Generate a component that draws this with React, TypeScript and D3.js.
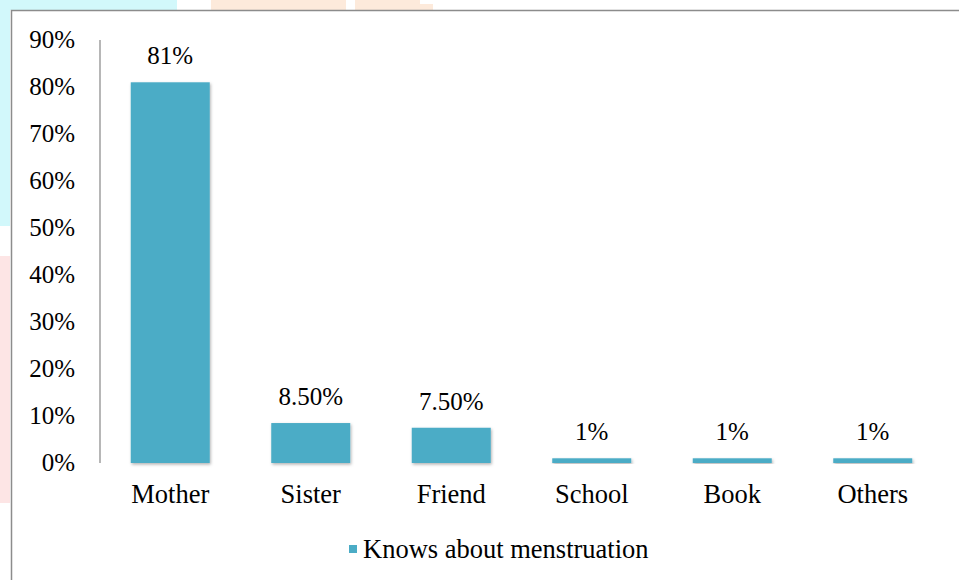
import React from "react";
import * as d3 from "d3";

const categories = ["Mother", "Sister", "Friend", "School", "Book", "Others"];
const values = [0.81, 0.085, 0.075, 0.01, 0.01, 0.01];
const valueLabels = ["81%", "8.50%", "7.50%", "1%", "1%", "1%"];
const yTicks = [0, 0.1, 0.2, 0.3, 0.4, 0.5, 0.6, 0.7, 0.8, 0.9];
const seriesName = "Knows about menstruation";

const W = 959;
const H = 580;
const BAR = "#4BACC6";
const AXIS = "#868686";
const FONT = "'Liberation Serif', 'Times New Roman', serif";
const FS = 25;
const FS_CAT = 26.5;

export default function App() {
  const x = d3
    .scaleBand<string>()
    .domain(categories)
    .range([100, 943])
    .paddingInner(0.4377)
    .paddingOuter(0.2189);
  const y = d3.scaleLinear().domain([0, 0.9]).range([463, 40]);
  const fmt = d3.format(".0%");

  return (
    <svg
      width={W}
      height={H}
      style={{ position: "absolute", left: 0, top: 0, background: "#fff", fontFamily: FONT }}
    >
      <defs>
        <filter id="sh" x="-20%" y="-20%" width="140%" height="140%">
          <feDropShadow dx="1" dy="1.5" stdDeviation="1.8" floodColor="#000" floodOpacity="0.3" />
        </filter>
        <filter id="sh2" x="-5%" y="-50%" width="110%" height="300%">
          <feDropShadow dx="0" dy="1.5" stdDeviation="1" floodColor="#000" floodOpacity="0.25" />
        </filter>
      </defs>
      {/* faint watermark pieces outside the frame */}
      <rect x={0} y={0} width={177} height={10} fill="#d2f8fb" />
      <rect x={211} y={0} width={135} height={10} fill="#fdeadb" />
      <rect x={355} y={0} width={65} height={10} fill="#fdeadb" />
      <rect x={420} y={4} width={13} height={6} fill="#fdeadb" />
      <rect x={0} y={0} width={10} height={226} fill="#d2f8fb" />
      <rect x={0} y={256} width={10} height={247} fill="#fde5e5" />

      {/* chart frame */}
      <rect x={11.5} y={10.5} width={W + 10} height={H + 10} fill="#fff" stroke="#8c8c8c" strokeWidth={1.5} />

      {/* y axis line */}
      <line x1={100} x2={100} y1={y(0.9)} y2={y(0)} stroke={AXIS} strokeWidth={1.2} />

      {/* y tick labels */}
      {yTicks.map((t) => (
        <text key={t} x={75} y={y(t)} dy="0.33em" textAnchor="end" fontSize={FS} fill="#000">
          {fmt(t)}
        </text>
      ))}

      {/* bars */}
      {categories.map((c, i) => (
        <rect
          key={c}
          x={x(c)}
          y={y(values[i])}
          width={x.bandwidth()}
          height={y(0) - y(values[i])}
          fill={BAR}
          filter="url(#sh)"
        />
      ))}

      {/* x axis line */}
      <line x1={100} x2={943} y1={y(0)} y2={y(0)} stroke={AXIS} strokeWidth={1.6} filter="url(#sh2)" />

      {/* data labels */}
      {categories.map((c, i) => (
        <text
          key={c}
          x={(x(c) as number) + x.bandwidth() / 2}
          y={y(values[i]) - 18}
          textAnchor="middle"
          fontSize={FS}
          fill="#000"
        >
          {valueLabels[i]}
        </text>
      ))}

      {/* category labels */}
      {categories.map((c) => (
        <text
          key={c}
          x={(x(c) as number) + x.bandwidth() / 2}
          y={503}
          textAnchor="middle"
          fontSize={FS_CAT}
          fill="#000"
        >
          {c}
        </text>
      ))}

      {/* legend */}
      <rect x={349} y={545} width={8} height={8} fill={BAR} />
      <text x={363} y={558} fontSize={FS_CAT} fill="#000">
        {seriesName}
      </text>
    </svg>
  );
}
